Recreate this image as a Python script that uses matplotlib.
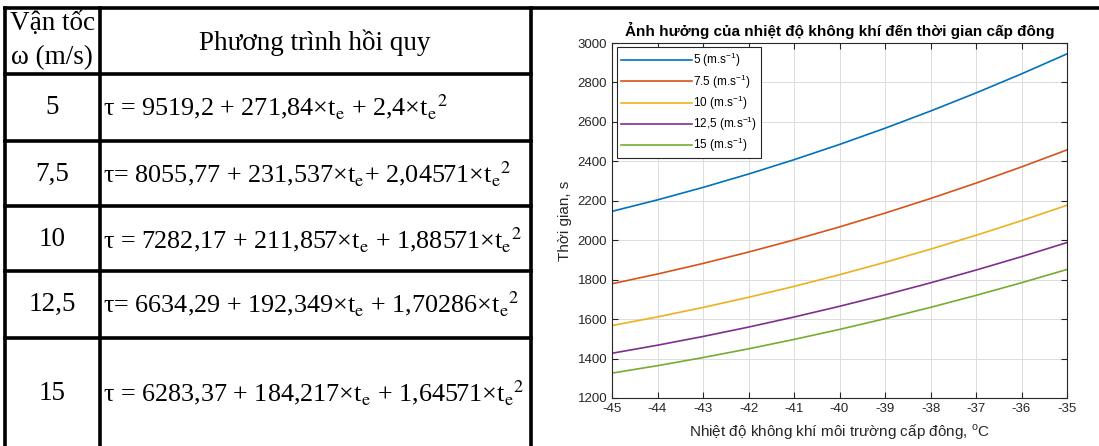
import numpy as np
import matplotlib.pyplot as plt

plt.rcParams['mathtext.fontset'] = 'custom'
plt.rcParams['mathtext.rm'] = 'Liberation Sans'
plt.rcParams['mathtext.it'] = 'Liberation Sans:italic'
plt.rcParams['axes.unicode_minus'] = False
plt.rcParams['font.family'] = ['Liberation Sans', 'DejaVu Sans']

# --- Data ---
speeds = ['5', '7,5', '10', '12,5', '15']
equations = [
    'τ = 9519,2 + 271,84×t$_\\mathrm{e}$ + 2,4×t$_\\mathrm{e}$$^\\mathrm{2}$',
    'τ= 8055,77 + 231,537×t$_\\mathrm{e}$+ 2,04571×t$_\\mathrm{e}$$^\\mathrm{2}$',
    'τ = 7282,17 + 211,857×t$_\\mathrm{e}$ + 1,88571×t$_\\mathrm{e}$$^\\mathrm{2}$',
    'τ= 6634,29 + 192,349×t$_\\mathrm{e}$ + 1,70286×t$_\\mathrm{e}$$^\\mathrm{2}$',
    'τ = 6283,37 + 184,217×t$_\\mathrm{e}$ + 1,64571×t$_\\mathrm{e}$$^\\mathrm{2}$',
]
temps = [-45, -44, -43, -42, -41, -40, -39, -38, -37, -36, -35]
tau_5 = [2146.4, 2204.6, 2267.7, 2335.5, 2408.2, 2485.6, 2567.8, 2654.9, 2746.7, 2843.4, 2944.8]
tau_75 = [1779.2, 1828.6, 1882.2, 1939.9, 2001.6, 2067.4, 2137.4, 2211.4, 2289.5, 2371.7, 2458.0]
tau_10 = [1567.2, 1611.2, 1659.0, 1710.6, 1765.9, 1825.0, 1887.9, 1954.6, 2025.0, 2099.2, 2177.2]
tau_125 = [1426.9, 1467.7, 1511.9, 1559.5, 1610.5, 1664.9, 1722.7, 1784.0, 1848.6, 1916.6, 1988.1]
tau_15 = [1326.2, 1363.9, 1405.0, 1449.3, 1496.9, 1547.8, 1602.0, 1659.5, 1720.3, 1784.4, 1851.8]
series = [tau_5, tau_75, tau_10, tau_125, tau_15]
legend_labels = ['5 (m.s$^{-1}$)', '7.5 (m.s$^{-1}$)', '10 (m.s$^{-1}$)',
                 '12,5 (m.s$^{-1}$)', '15 (m.s$^{-1}$)']
colors = ['#0072BD', '#D95319', '#EDB120', '#7E2F8E', '#77AC30']

W, H = 1099, 446
fig = plt.figure(figsize=(W / 100, H / 100), dpi=100)

# --- Table (pixel coordinates overlay) ---
tab = fig.add_axes([0, 0, 1, 1])
tab.set_xlim(0, W)
tab.set_ylim(H, 0)
tab.axis('off')

serif = 'Liberation Serif'
lw = 2.6
for y in [8, 74, 141, 206, 271, 338]:
    x_end = W if y == 8 else 531
    tab.plot([5, x_end], [y, y], color='black', lw=lw, solid_capstyle='projecting')
for x in [5, 100, 531]:
    tab.plot([x, x], [8, H], color='black', lw=lw, solid_capstyle='projecting')

fs = 19.5
tab.text(52, 24, 'Vận tốc', family=serif, fontsize=fs, ha='center', va='center')
tab.text(52, 58, 'ω (m/s)', family=serif, fontsize=fs, ha='center', va='center')
tab.text(315, 43, 'Phương trình hồi quy', family=serif, fontsize=fs, ha='center', va='center')

row_y = [107, 174, 240, 304, 393]
for s, eq, y in zip(speeds, equations, row_y):
    tab.text(52, y, s, family=serif, fontsize=fs, ha='center', va='center')
    tab.text(103, y, eq, family=serif, fontsize=18.8, ha='left', va='center',
             math_fontfamily='stix')

# --- Chart ---
left, right, top, bottom = 612, 1067, 43, 398
ax = fig.add_axes([left / W, 1 - bottom / H, (right - left) / W, (bottom - top) / H])
for ys, lab, c in zip(series, legend_labels, colors):
    ax.plot(temps, ys, color=c, lw=1.2, label=lab)

ax.set_xlim(-45, -35)
ax.set_ylim(1200, 3000)
ax.set_xticks(np.arange(-45, -34, 1))
ax.set_yticks(np.arange(1200, 3001, 200))
ax.tick_params(direction='in', top=True, right=True, labelsize=9.5, colors='#262626',
               length=4)
ax.grid(True, color='#dcdcdc', lw=0.7)
for sp in ax.spines.values():
    sp.set_color('#262626')
    sp.set_linewidth(0.8)

ax.set_title('Ảnh hưởng của nhiệt độ không khí đến thời gian cấp đông',
             fontsize=11, fontweight='bold', pad=5)
ax.set_xlabel('Nhiệt độ không khí môi trường cấp đông, $^{\\mathrm{o}}$C', fontsize=11,
              color='#262626', labelpad=5)
ax.set_ylabel('Thời gian, s', fontsize=11, color='#262626', labelpad=4)

leg = ax.legend(loc='upper left', fontsize=8.5, handlelength=6, handletextpad=0.1,
                labelspacing=0.25, borderpad=0.35, fancybox=False, framealpha=1,
                edgecolor='#262626', borderaxespad=0.2, bbox_to_anchor=(0.005, 0.995))
leg.get_frame().set_linewidth(0.8)

fig.savefig('out.png', dpi=100)
